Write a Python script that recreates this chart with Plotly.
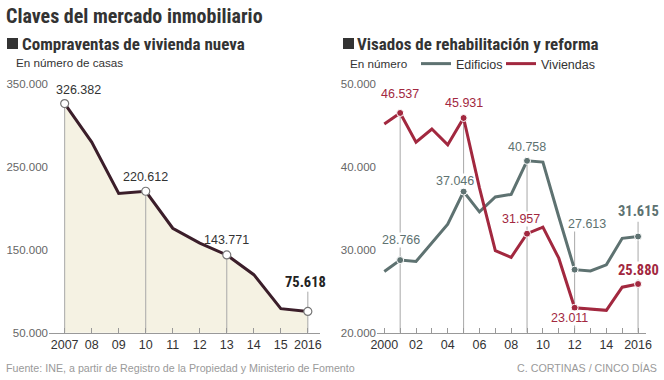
import plotly.graph_objects as go

# ---------------- data ----------------
years_left = [2007, 2008, 2009, 2010, 2011, 2012, 2013, 2014, 2015, 2016]
ventas = [326382, 280000, 218000, 220612, 176000, 158000, 143771, 120000, 79000, 75618]
left_ticktext = ["2007", "08", "09", "10", "11", "12", "13", "14", "15", "2016"]
left_yticks = [50000, 150000, 250000, 350000]
left_highlight = [2007, 2010, 2013, 2016]

years_right = list(range(2000, 2017))
edificios = [27400, 28766, 28600, 30800, 33100, 37046, 34600, 36400, 36700, 40758,
             40600, 34000, 27613, 27450, 28200, 31400, 31615]
viviendas = [45200, 46537, 43000, 44600, 42700, 45931, 37500, 29900, 29100, 31957,
             32750, 29000, 23011, 22900, 22700, 25500, 25880]
right_ticktext = ["2000", "", "02", "", "04", "", "06", "", "08", "", "10", "", "12", "", "14", "", "2016"]
right_yticks = [20000, 30000, 40000, 50000]
right_highlight = [2001, 2005, 2009, 2012, 2016]

# ---------------- style ----------------
W, H = 664, 380
FONT = "Liberation Sans, Arial, sans-serif"
NARROW = "Liberation Sans Narrow, Roboto Condensed, Arial Narrow, Liberation Sans, sans-serif"
C_DARK = "#3b1e2a"
C_FILL = "#f5f2e3"
C_GREY = "#5e7271"
C_RED = "#a2283f"
C_AXIS = "#999999"
C_VLINE = "#a8a8a8"


def fmt(v):
    return f"{v:,}".replace(",", ".")


def px_x(p):
    return p / W


def px_y(p):
    return 1 - p / H


fig = go.Figure()

# ---------- left chart ----------
fig.add_trace(go.Scatter(x=years_left, y=ventas, mode="lines", fill="tozeroy",
                         fillcolor=C_FILL, line=dict(width=0), hoverinfo="skip",
                         showlegend=False, xaxis="x", yaxis="y"))

left_top = {2016: 99500}
vx, vy = [], []
for yr in left_highlight:
    v = ventas[years_left.index(yr)]
    vx += [yr, yr, None]
    vy += [50000, max(v, left_top.get(yr, v)), None]
fig.add_trace(go.Scatter(x=vx, y=vy, mode="lines", line=dict(color=C_VLINE, width=1),
                         hoverinfo="skip", showlegend=False, xaxis="x", yaxis="y"))

fig.add_trace(go.Scatter(x=years_left, y=ventas, mode="lines",
                         line=dict(color=C_DARK, width=3), name="Compraventas",
                         showlegend=False, xaxis="x", yaxis="y"))
hl_v = [ventas[years_left.index(y)] for y in left_highlight]
fig.add_trace(go.Scatter(x=left_highlight, y=hl_v, mode="markers",
                         marker=dict(color="white", size=8, line=dict(color="#777", width=1.2)),
                         showlegend=False, hoverinfo="skip", xaxis="x", yaxis="y"))

# ---------- right chart ----------
right_tops = {2001: viviendas[1], 2005: viviendas[5], 2009: edificios[9], 2012: 33800, 2016: 33400}
vx, vy = [], []
for yr in right_highlight:
    vx += [yr, yr, None]
    vy += [20000, right_tops[yr], None]
fig.add_trace(go.Scatter(x=vx, y=vy, mode="lines", line=dict(color=C_VLINE, width=1),
                         hoverinfo="skip", showlegend=False, xaxis="x2", yaxis="y2"))

fig.add_trace(go.Scatter(x=years_right, y=edificios, mode="lines",
                         line=dict(color=C_GREY, width=3), name="Edificios",
                         showlegend=True, legend="legend", xaxis="x2", yaxis="y2"))
fig.add_trace(go.Scatter(x=years_right, y=viviendas, mode="lines",
                         line=dict(color=C_RED, width=3), name="Viviendas",
                         showlegend=True, legend="legend2", xaxis="x2", yaxis="y2"))
hl_e = [edificios[years_right.index(y)] for y in right_highlight]
hl_r = [viviendas[years_right.index(y)] for y in right_highlight]
fig.add_trace(go.Scatter(x=right_highlight, y=hl_e, mode="markers",
                         marker=dict(color=C_GREY, size=7, line=dict(color="white", width=1)),
                         showlegend=False, hoverinfo="skip", xaxis="x2", yaxis="y2"))
fig.add_trace(go.Scatter(x=right_highlight, y=hl_r, mode="markers",
                         marker=dict(color=C_RED, size=7, line=dict(color="white", width=1)),
                         showlegend=False, hoverinfo="skip", xaxis="x2", yaxis="y2"))

# ---------- value labels ----------
ann = []


def label(x, y, text, color, xs, ys, xr, yr, bold=False):
    ann.append(dict(x=x, y=y, xref=xr, yref=yr, text=text, showarrow=False,
                    xshift=xs, yshift=ys, xanchor="center", yanchor="middle",
                    bgcolor="white" if xr == "x2" else "rgba(0,0,0,0)", borderpad=0,
                    font=dict(family=NARROW if bold else FONT,
                              size=14.5 if bold else 12.5,
                              color=color,
                              weight="bold" if bold else "normal")))


left_lab_off = {2007: (14, 14), 2010: (0, 14), 2013: (0, 15), 2016: (-2, 29)}
for yr in left_highlight:
    v = ventas[years_left.index(yr)]
    xs, ys = left_lab_off[yr]
    label(yr, v, fmt(v), "#333" if yr != 2016 else "#222", xs, ys, "x", "y", bold=(yr == 2016))

grey_off = {2001: (1, 20), 2005: (-9, 11), 2009: (0, 14), 2012: (12, 46), 2016: (0, 25)}
red_off = {2001: (0, 19), 2005: (0, 15), 2009: (-6, 15), 2012: (-5, -10), 2016: (0, 14)}
for yr in right_highlight:
    e = edificios[years_right.index(yr)]
    xs, ys = grey_off[yr]
    label(yr, e, fmt(e), C_GREY, xs, ys, "x2", "y2", bold=(yr == 2016))
    r = viviendas[years_right.index(yr)]
    xs, ys = red_off[yr]
    label(yr, r, fmt(r), C_RED, xs, ys, "x2", "y2", bold=(yr == 2016))


# ---------- titles and text ----------
def ptext(x, y, text, size, color, family=FONT, bold=False, xanchor="left"):
    ann.append(dict(x=px_x(x), y=px_y(y), xref="paper", yref="paper", text=text,
                    showarrow=False, xanchor=xanchor, yanchor="middle",
                    font=dict(family=family, size=size, color=color,
                              weight="bold" if bold else "normal")))


ptext(4, 16, "Claves del mercado inmobiliario", 20, "#333", NARROW, True)
ptext(20, 44, "Compraventas de vivienda nueva", 17, "#333", NARROW, True)
ptext(355, 44, "Visados de rehabilitación y reforma", 17, "#333", NARROW, True)
ptext(14, 63, "En número de casas", 11.7, "#333")
ptext(348, 64, "En número", 11.7, "#333")
ptext(4, 368, "Fuente: INE, a partir de Registro de la Propiedad y Ministerio de Fomento", 10.7, "#9a9a9a")
ptext(659, 368, "C. CORTINAS / CINCO DÍAS", 10.7, "#9a9a9a", xanchor="right")

shapes = [
    dict(type="rect", xref="paper", yref="paper", x0=px_x(7), x1=px_x(18),
         y0=px_y(49), y1=px_y(38), fillcolor="#333", line=dict(width=0)),
    dict(type="rect", xref="paper", yref="paper", x0=px_x(343), x1=px_x(354),
         y0=px_y(49), y1=px_y(38), fillcolor="#333", line=dict(width=0)),
]

axis_common = dict(showgrid=False, zeroline=False, showline=True, linecolor=C_AXIS,
                   linewidth=1, ticks="inside", ticklen=5, tickcolor=C_AXIS, automargin=False,
                   tickfont=dict(family=FONT, size=12.5, color="#333"), fixedrange=True)
yaxis_common = dict(showgrid=False, zeroline=False, showline=False, ticks="", automargin=False,
                    tickfont=dict(family=FONT, size=11.5, color="#666"), fixedrange=True)
legend_common = dict(orientation="h", xanchor="left", y=px_y(64), yanchor="middle",
                     font=dict(family=FONT, size=12.5, color="#333"), bgcolor="rgba(0,0,0,0)",
                     itemwidth=30, tracegroupgap=0)

fig.update_layout(
    template="none",
    width=W, height=H, margin=dict(l=0, r=0, t=0, b=0, autoexpand=False),
    paper_bgcolor="white", plot_bgcolor="rgba(0,0,0,0)",
    separators=",.",
    xaxis=dict(domain=[px_x(49), px_x(320)], range=[2006.42, 2016.45],
               tickvals=years_left, ticktext=left_ticktext, anchor="y", **axis_common),
    yaxis=dict(domain=[px_y(332.7), px_y(84)], range=[50000, 350000],
               tickvals=left_yticks, tickformat=",d", anchor="x", **yaxis_common),
    xaxis2=dict(domain=[px_x(377), px_x(646)], range=[1999.54, 2016.5],
                tickvals=years_right, ticktext=right_ticktext, anchor="y2", **axis_common),
    yaxis2=dict(domain=[px_y(332.7), px_y(84.3)], range=[20000, 50000],
                tickvals=right_yticks, tickformat=",d", anchor="x2", **yaxis_common),
    legend=dict(x=px_x(416), **legend_common),
    legend2=dict(x=px_x(501), **legend_common),
    annotations=ann, shapes=shapes,
)

fig.write_html("out.html", config={"displayModeBar": False},
               post_script="document.body.style.margin='0';document.body.style.overflow='hidden';")
